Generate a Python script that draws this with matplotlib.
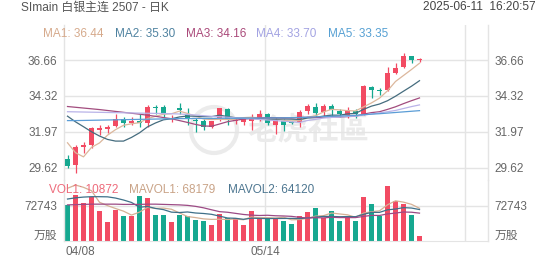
import numpy as np
import pandas as pd
import matplotlib
matplotlib.use('Agg')
import matplotlib.pyplot as plt
from matplotlib.patches import Ellipse

plt.rcParams['font.family'] = ['Liberation Sans', 'Noto Sans CJK SC']

W, H = 552, 265

# daily candles, 04/08 .. 06/11
opens = [30.16, 29.79, 30.95, 31.10, 32.08, 32.15, 32.36, 32.80, 32.52, 32.69,
         32.52, 33.60, 33.60, 32.80, 33.50, 33.15, 32.75, 32.67, 32.30, 32.85,
         33.45, 32.65, 32.63, 32.65, 32.85, 33.12, 32.38, 32.70, 32.60, 32.62,
         33.35, 33.60, 33.28, 33.68, 33.30, 33.07, 33.35, 33.10, 34.90, 34.70,
         34.70, 35.80, 36.23, 36.94, 36.65]
highs = [30.44, 31.10, 31.30, 32.30, 32.40, 32.40, 33.13, 32.95, 32.95, 33.10,
         33.70, 33.72, 33.70, 33.05, 33.85, 33.50, 32.85, 32.80, 32.70, 33.55,
         33.55, 32.90, 32.95, 33.10, 33.40, 33.20, 32.95, 32.80, 32.70, 33.38,
         33.78, 33.83, 33.80, 33.80, 33.45, 33.60, 33.45, 35.00, 34.95, 34.85,
         36.20, 36.45, 37.10, 36.95, 36.80]
lows = [29.59, 29.28, 30.60, 30.88, 31.75, 31.90, 32.26, 32.30, 32.40, 32.30,
        32.30, 33.13, 32.95, 32.60, 33.10, 32.40, 31.97, 32.10, 32.20, 32.70,
        32.40, 32.50, 32.40, 32.10, 32.70, 32.40, 31.80, 32.00, 32.45, 32.30,
        33.15, 32.95, 33.00, 32.95, 32.95, 32.85, 32.85, 33.05, 34.15, 34.35,
        34.65, 35.75, 36.15, 36.45, 36.55]
closes = [29.72, 30.99, 31.10, 32.19, 32.20, 32.25, 32.80, 32.52, 32.69, 32.55,
          33.60, 33.55, 33.17, 32.87, 33.40, 32.85, 32.65, 32.26, 32.67, 33.50,
          32.75, 32.75, 32.80, 32.80, 33.12, 32.55, 32.75, 32.40, 32.55, 33.28,
          33.65, 33.20, 33.65, 33.40, 33.10, 33.40, 33.10, 34.98, 34.70, 34.65,
          35.80, 36.15, 36.94, 36.66, 36.70]
volumes = [73150, 93640, 77860, 90770, 61470, 38930, 64130, 50610, 50610, 91590,
           87490, 53680, 53680, 38930, 53680, 50610, 43030, 40570, 33600, 55120,
           48150, 48150, 32780, 61880, 48150, 48150, 44460, 41590, 34830, 51220,
           60030, 67000, 46510, 62080, 41590, 51220, 41590, 89540, 75810, 51220,
           112700, 82570, 75810, 53270, 10872]

# moving-average values at the left edge (window reaches before the chart)
ma1_head = [31.25, 30.60, 30.33, 30.95]
ma2_head = [32.99, 32.62, 32.30, 31.97, 31.69, 31.47, 31.36, 31.36, 31.60]
ma3_head = [33.62, 33.57, 33.52, 33.47, 33.42, 33.36, 33.30, 33.24, 33.18, 33.12,
            33.05, 32.98, 32.90, 32.82, 32.70, 32.58, 32.45, 32.35, 32.33]
ma4_head = [33.28, 33.27, 33.26, 33.25, 33.24, 33.23, 33.22, 33.21, 33.20, 33.19,
            33.18, 33.17, 33.16, 33.15, 33.13, 33.10, 33.06, 33.02, 32.98, 32.95,
            32.92, 32.88, 32.85, 32.82, 32.78, 32.74, 32.70, 32.66, 32.62]
ma5_line = [32.70, 32.70, 32.71, 32.72, 32.73, 32.74, 32.75, 32.76, 32.77, 32.78,
            32.79, 32.80, 32.81, 32.82, 32.83, 32.83, 32.84, 32.84, 32.84, 32.85,
            32.85, 32.85, 32.86, 32.86, 32.87, 32.87, 32.88, 32.88, 32.89, 32.90,
            32.92, 32.94, 32.96, 32.98, 33.00, 33.02, 33.04, 33.08, 33.12, 33.15,
            33.19, 33.23, 33.27, 33.31, 33.35]
mavol1_head = [108000, 114700, 110000, 103000]
mavol2_head = [86000, 88500, 90000, 90800, 90800, 90500, 88000, 84000, 79000]
mavol3_head = [74000, 74500, 75000, 75500, 75500, 75500, 75500, 75000, 75000, 75000,
               75500, 75500, 75000, 74500, 74000, 73000, 71000, 68000, 64000]

price_ticks = [29.62, 31.97, 34.32, 36.66]
vol_ticks = [72743]
date_labels = ['04/08', '05/14']
ma_labels = ['MA1: 36.44', 'MA2: 35.30', 'MA3: 34.16', 'MA4: 33.70', 'MA5: 33.35']
vol_labels = ['VOL1: 10872', 'MAVOL1: 68179', 'MAVOL2: 64120']

UP, DOWN = '#f24b63', '#16a890'
GRID = '#e4e4e4'
TXT = '#666666'


def with_head(values, n, head):
    s = pd.Series(values, dtype=float).rolling(n).mean()
    s.iloc[:len(head)] = head
    return s.values


def fx(px):
    return px / W


def fy(py):
    return 1 - py / H


x = np.arange(len(closes))
o = np.array(opens)
c = np.array(closes)
colors = [UP if cc >= oo else DOWN for oo, cc in zip(o, c)]

fig = plt.figure(figsize=(W / 100, H / 100), dpi=100)
ax = fig.add_axes([fx(64), fy(180), fx(488) - fx(64), (180 - 25) / H])
axv = fig.add_axes([fx(64), fy(241), fx(488) - fx(64), (241 - 180) / H], sharex=ax)
for a in (ax, axv):
    a.patch.set_visible(False)

xlim = (-0.4375, 52.5625)
ax.set_xlim(*xlim)
ax.set_ylim(28.817, 38.948)
axv.set_ylim(0, 125000)

# frame + grid
for a in (ax, axv):
    for s in ('top', 'bottom'):
        a.spines[s].set_visible(False)
    for s in ('left', 'right'):
        a.spines[s].set_color(GRID)
        a.spines[s].set_linewidth(1.0)
    for gx in (24.6875, 49.6875):
        a.axvline(gx, color=GRID, lw=1.0, zorder=0)
axv.spines['bottom'].set_visible(True)
axv.spines['bottom'].set_color(GRID)

ax.set_yticks(price_ticks)
ax.set_yticklabels(['%.2f' % t for t in price_ticks])
ax.grid(axis='y', color=GRID, lw=1.0, zorder=0)
axv.set_yticks(vol_ticks)
axv.set_yticklabels([str(t) for t in vol_ticks])
axv.grid(axis='y', color=GRID, lw=1.0, zorder=0)
for a in (ax, axv):
    a.tick_params(axis='y', length=0, labelsize=8.5, labelcolor=TXT, pad=4.6,
                  labelleft=True, labelright=True)
ax.tick_params(axis='x', length=0, labelbottom=False)

axv.set_xticks([xlim[0] + 0.125, 24.6875])
axv.set_xticklabels(date_labels)
axv.tick_params(axis='x', length=0, labelsize=8.5, labelcolor=TXT, pad=3.6)
for lbl, ha in zip(axv.get_xticklabels(), ['left', 'center']):
    lbl.set_ha(ha)

# watermark
ax.add_patch(Ellipse((fx(214), fy(130)), 46 / W, 46 / H, transform=fig.transFigure,
                     fill=False, ec='#ebebeb', lw=3, zorder=0.5))
ax.text(fx(247), fy(130), '老虎社區', transform=fig.transFigure, fontsize=22,
        color='#ebebeb', fontweight='bold', va='center', ha='left', zorder=0.5)

# candles
ax.vlines(x, lows, highs, colors=colors, lw=0.9, zorder=3)
body_bot = np.minimum(o, c)
body_h = np.maximum(np.abs(c - o), 0.06)
ax.bar(x, body_h, bottom=body_bot, width=0.62, color=colors, zorder=4)

ma_cols = ['#dcb79c', '#456c7e', '#a24c7e', '#b9b3e8', '#5b9dd6']
ma_lines = [with_head(closes, 5, ma1_head), with_head(closes, 10, ma2_head),
            with_head(closes, 20, ma3_head), with_head(closes, 30, ma4_head),
            np.array(ma5_line)]
for line, col in zip(ma_lines, ma_cols):
    ax.plot(x, line, color=col, lw=0.9, zorder=5)

# volume
axv.bar(x, volumes, width=0.7, color=colors, zorder=2)
mavol_cols = ['#d6b195', '#3f7089', '#9c4a85']
mavol_lines = [with_head(volumes, 5, mavol1_head), with_head(volumes, 10, mavol2_head),
               with_head(volumes, 20, mavol3_head)]
for line, col in zip(mavol_lines, mavol_cols):
    axv.plot(x, line, color=col, lw=0.9, zorder=3)

# header texts
fig.text(fx(20.7), fy(7.5), 'SImain 白银主连 2507 - 日K', fontsize=8.6,
         color='#555555', va='center', ha='left')
fig.text(fx(536), fy(7.5), '2025-06-11  16:20:57', fontsize=8.6,
         color='#444444', va='center', ha='right')

ma_txt_cols = ['#d6aa8c', '#4f82a0', '#aa4a7a', '#a3a3e2', '#56a0d3']
for lbl, px, col in zip(ma_labels, [43, 115, 186, 256, 328], ma_txt_cols):
    fig.text(fx(px), fy(34), lbl, fontsize=8.5, color=col, va='center', ha='left')

vol_txt_cols = ['#ee6a7a', '#c9a387', '#4d7690']
for lbl, px, col in zip(vol_labels, [49, 129, 228], vol_txt_cols):
    fig.text(fx(px), fy(190), lbl, fontsize=8.5, color=col, va='center', ha='left')

for px, ha in ((57.3, 'right'), (494.3, 'left')):
    fig.text(fx(px), fy(236), '万股', fontsize=8.5, color=TXT, va='center', ha=ha)

fig.savefig('out.png', dpi=100)
